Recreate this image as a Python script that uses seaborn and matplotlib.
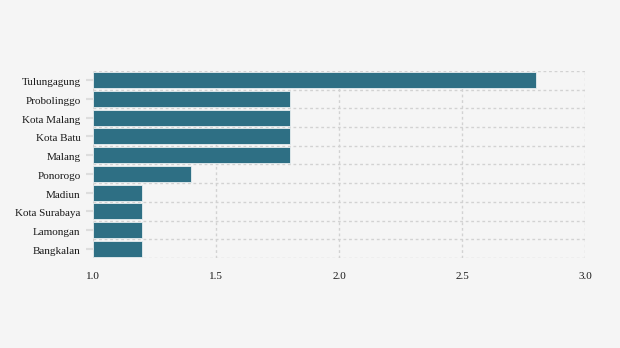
import matplotlib
matplotlib.use("Agg")
import matplotlib.pyplot as plt
import matplotlib.transforms as mtransforms
import seaborn as sns
import pandas as pd
import numpy as np

regions = ["Tulungagung", "Probolinggo", "Kota Malang", "Kota Batu", "Malang",
           "Ponorogo", "Madiun", "Kota Surabaya", "Lamongan", "Bangkalan"]
values = [2.8, 1.8, 1.8, 1.8, 1.8, 1.4, 1.2, 1.2, 1.2, 1.2]
x_ticks = [1.0, 1.5, 2.0, 2.5, 3.0]

sns.set_theme(style="white")
plt.rcParams["font.family"] = ["Liberation Serif", "DejaVu Serif"]

bg = "#f5f5f5"
fig = plt.figure(figsize=(6.2, 3.48), dpi=100, facecolor=bg)
ax = fig.add_axes([0.15, 0.2586, 0.7935, 0.5374])
ax.set_facecolor(bg)

df = pd.DataFrame({"region": regions, "value": values})
base = 1.0
sns.barplot(data=df, y="region", x="value", color="#2e6f84", saturation=1,
            width=0.85, edgecolor="#e8eef0", linewidth=0.6, ax=ax, orient="h")

# bars start at 1.0 rather than zero
for patch, v in zip(ax.patches, values):
    patch.set_x(base)
    patch.set_width(v - base)

ax.set_xlim(1.0, 3.0)
ax.set_ylim(len(regions) - 0.5, -0.5)
ax.set_xticks(x_ticks)
ax.set_xticklabels([f"{t:.1f}" for t in x_ticks])
ax.set_yticks(np.arange(len(regions)))
ax.set_yticklabels(regions)
ax.set_yticks(np.arange(-0.5, len(regions), 1.0), minor=True)

grid_kw = dict(color="#d2d2d2", linestyle=(0, (2, 2)), linewidth=1.0)
ax.grid(False)
ax.xaxis.grid(True, which="major", **grid_kw)
ax.yaxis.grid(True, which="minor", **grid_kw)
ax.set_axisbelow(True)

for s in ax.spines.values():
    s.set_visible(False)

ax.tick_params(axis="y", which="major", length=5, color="#dddddd", width=1.5,
               labelsize=8, labelcolor="#1a1a1a", pad=4, left=True)
ax.tick_params(axis="y", which="minor", length=0)
ax.tick_params(axis="x", length=0, labelsize=8, labelcolor="#1a1a1a", pad=10)
ax.set_xlabel("")
ax.set_ylabel("")

# nudge the region labels slightly downward
shift = mtransforms.ScaledTranslation(0, -1.5 / 100, fig.dpi_scale_trans)
for lbl in ax.get_yticklabels():
    lbl.set_transform(lbl.get_transform() + shift)

fig.savefig("out.png", dpi=100, facecolor=bg)
